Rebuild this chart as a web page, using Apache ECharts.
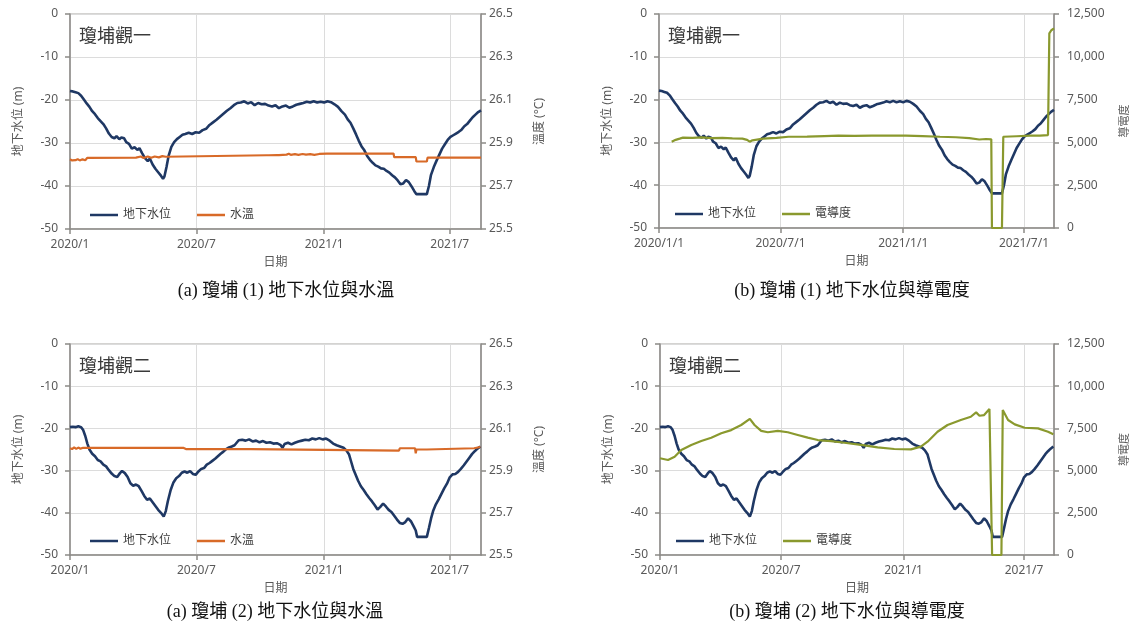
<!DOCTYPE html>
<html>
<head>
<meta charset="utf-8">
<title>瓊埔 地下水位、水溫與導電度</title>
<script src="https://cdn.jsdelivr.net/npm/echarts@6/dist/echarts.min.js"></script>
<style>
  html, body { margin: 0; padding: 0; background: #ffffff; }
  #c { width: 1136px; height: 632px; }
</style>
</head>
<body>
<div id="c"></div>
<script>
// ---- axis ticks ----
const TICK_DATES = ['2020-01-01', '2020-07-01', '2021-01-01', '2021-07-01'];
const TICK_LABELS_SHORT = ['2020/1', '2020/7', '2021/1', '2021/7'];
const TICK_LABELS_FULL = ['2020/1/1', '2020/7/1', '2021/1/1', '2021/7/1'];
const X_START = '2020-01-01';
const X_END = '2021-08-15';

// ---- 瓊埔觀一 groundwater level (m) ----
const gw1 = [
  ['2020-01-01',-17.9],['2020-01-05',-18.0],['2020-01-09',-18.2],['2020-01-13',-18.4],['2020-01-17',-19.0],
  ['2020-01-21',-19.9],['2020-01-25',-20.8],['2020-01-29',-21.6],['2020-02-02',-22.6],['2020-02-06',-23.3],
  ['2020-02-10',-24.2],['2020-02-14',-24.9],['2020-02-18',-25.6],['2020-02-22',-26.6],['2020-02-26',-27.8],
  ['2020-03-01',-28.6],['2020-03-05',-28.9],['2020-03-08',-28.4],['2020-03-12',-29.1],['2020-03-15',-28.7],
  ['2020-03-19',-28.9],['2020-03-22',-29.8],['2020-03-26',-30.2],['2020-03-30',-31.3],['2020-04-03',-31.0],
  ['2020-04-07',-31.6],['2020-04-10',-31.2],['2020-04-14',-32.4],['2020-04-18',-33.5],['2020-04-22',-34.2],
  ['2020-04-25',-33.6],['2020-04-29',-35.0],['2020-05-03',-36.0],['2020-05-07',-36.8],['2020-05-11',-37.6],
  ['2020-05-14',-38.3],['2020-05-16',-37.8],['2020-05-19',-35.6],['2020-05-22',-33.0],['2020-05-26',-30.9],
  ['2020-05-30',-29.8],['2020-06-03',-29.1],['2020-06-07',-28.6],['2020-06-11',-28.1],['2020-06-15',-27.9],
  ['2020-06-20',-27.6],['2020-06-25',-27.9],['2020-06-30',-27.5],['2020-07-05',-27.6],['2020-07-10',-27.0],
  ['2020-07-15',-26.7],['2020-07-20',-25.8],['2020-07-25',-25.2],['2020-07-30',-24.6],['2020-08-04',-23.9],
  ['2020-08-09',-23.2],['2020-08-14',-22.5],['2020-08-19',-21.9],['2020-08-24',-21.2],['2020-08-29',-20.7],
  ['2020-09-03',-20.6],['2020-09-08',-20.3],['2020-09-13',-20.8],['2020-09-18',-20.5],['2020-09-23',-21.2],
  ['2020-09-28',-20.7],['2020-10-03',-21.0],['2020-10-08',-20.9],['2020-10-13',-21.3],['2020-10-18',-21.5],
  ['2020-10-23',-21.2],['2020-10-28',-21.9],['2020-11-02',-21.5],['2020-11-07',-21.3],['2020-11-12',-21.8],
  ['2020-11-17',-21.5],['2020-11-22',-21.1],['2020-11-27',-20.9],['2020-12-02',-20.7],['2020-12-07',-20.4],
  ['2020-12-12',-20.6],['2020-12-17',-20.3],['2020-12-22',-20.6],['2020-12-27',-20.4],['2021-01-01',-20.6],
  ['2021-01-06',-20.3],['2021-01-11',-20.5],['2021-01-16',-21.0],['2021-01-21',-21.6],['2021-01-26',-22.6],
  ['2021-01-31',-23.4],['2021-02-04',-24.5],['2021-02-08',-25.3],['2021-02-12',-26.6],['2021-02-16',-28.0],
  ['2021-02-20',-29.5],['2021-02-24',-30.8],['2021-02-28',-31.7],['2021-03-04',-33.0],['2021-03-08',-33.9],
  ['2021-03-12',-34.6],['2021-03-16',-35.2],['2021-03-20',-35.5],['2021-03-24',-35.9],['2021-03-28',-36.0],
  ['2021-04-01',-36.5],['2021-04-05',-36.9],['2021-04-09',-37.5],['2021-04-13',-38.0],['2021-04-17',-38.7],
  ['2021-04-21',-39.6],['2021-04-25',-39.4],['2021-04-29',-38.6],['2021-05-03',-39.1],['2021-05-07',-40.1],
  ['2021-05-11',-41.2],['2021-05-14',-41.9],['2021-05-29',-41.9],['2021-06-01',-40.0],['2021-06-04',-37.4],
  ['2021-06-08',-35.6],['2021-06-12',-34.1],['2021-06-16',-32.7],['2021-06-20',-31.3],['2021-06-24',-30.3],
  ['2021-06-28',-29.3],['2021-07-02',-28.6],['2021-07-06',-28.2],['2021-07-10',-27.8],['2021-07-14',-27.4],
  ['2021-07-18',-26.9],['2021-07-22',-26.1],['2021-07-26',-25.6],['2021-07-30',-24.8],['2021-08-03',-24.0],
  ['2021-08-07',-23.4],['2021-08-11',-22.8],['2021-08-15',-22.4]
];

// ---- 瓊埔觀二 groundwater level (m) ----
const gw2 = [
  ['2020-01-01',-19.7],['2020-01-05',-19.6],['2020-01-09',-19.7],['2020-01-13',-19.5],['2020-01-17',-19.7],
  ['2020-01-20',-20.4],['2020-01-23',-21.8],['2020-01-26',-23.6],['2020-01-29',-25.0],['2020-02-02',-26.0],
  ['2020-02-06',-26.6],['2020-02-10',-27.5],['2020-02-14',-27.8],['2020-02-18',-28.6],['2020-02-22',-29.0],
  ['2020-02-26',-29.9],['2020-03-01',-30.7],['2020-03-05',-31.3],['2020-03-09',-31.5],['2020-03-13',-30.6],
  ['2020-03-16',-30.1],['2020-03-20',-30.6],['2020-03-24',-31.5],['2020-03-28',-33.0],['2020-04-01',-33.6],
  ['2020-04-05',-33.3],['2020-04-09',-33.7],['2020-04-13',-34.8],['2020-04-17',-36.0],['2020-04-21',-36.9],
  ['2020-04-25',-36.6],['2020-04-29',-37.5],['2020-05-03',-38.4],['2020-05-07',-39.3],['2020-05-11',-40.0],
  ['2020-05-15',-40.9],['2020-05-18',-39.6],['2020-05-21',-37.2],['2020-05-25',-34.6],['2020-05-29',-32.8],
  ['2020-06-02',-31.8],['2020-06-06',-31.3],['2020-06-10',-30.5],['2020-06-14',-30.2],['2020-06-18',-30.5],
  ['2020-06-22',-30.1],['2020-06-26',-30.8],['2020-06-30',-31.0],['2020-07-04',-30.2],['2020-07-08',-29.6],
  ['2020-07-12',-29.4],['2020-07-16',-28.6],['2020-07-20',-28.2],['2020-07-24',-27.7],['2020-07-28',-27.2],
  ['2020-08-01',-26.6],['2020-08-05',-26.0],['2020-08-09',-25.5],['2020-08-13',-24.9],['2020-08-17',-24.5],
  ['2020-08-21',-24.3],['2020-08-25',-24.0],['2020-08-28',-23.4],['2020-08-31',-22.8],['2020-09-05',-22.7],
  ['2020-09-10',-22.9],['2020-09-15',-22.6],['2020-09-20',-23.1],['2020-09-25',-22.9],['2020-09-30',-23.3],
  ['2020-10-05',-23.0],['2020-10-10',-23.4],['2020-10-15',-23.3],['2020-10-20',-23.6],['2020-10-25',-23.5],
  ['2020-10-30',-23.9],['2020-11-02',-24.6],['2020-11-05',-23.7],['2020-11-10',-23.4],['2020-11-15',-23.8],
  ['2020-11-20',-23.4],['2020-11-25',-23.1],['2020-11-30',-22.9],['2020-12-05',-22.7],['2020-12-10',-22.8],
  ['2020-12-15',-22.4],['2020-12-20',-22.6],['2020-12-25',-22.3],['2020-12-30',-22.6],['2021-01-04',-22.4],
  ['2021-01-09',-22.9],['2021-01-14',-23.6],['2021-01-19',-24.0],['2021-01-24',-24.3],['2021-01-29',-24.6],
  ['2021-02-02',-25.2],['2021-02-06',-26.2],['2021-02-09',-27.9],['2021-02-12',-29.6],['2021-02-15',-30.8],
  ['2021-02-19',-32.4],['2021-02-23',-33.7],['2021-02-27',-34.6],['2021-03-03',-35.6],['2021-03-07',-36.5],
  ['2021-03-11',-37.3],['2021-03-15',-38.2],['2021-03-19',-39.2],['2021-03-23',-38.6],['2021-03-27',-37.8],
  ['2021-03-31',-38.5],['2021-04-04',-39.3],['2021-04-08',-39.8],['2021-04-12',-40.7],['2021-04-16',-41.6],
  ['2021-04-20',-42.4],['2021-04-24',-42.6],['2021-04-28',-42.2],['2021-05-02',-41.3],['2021-05-06',-42.0],
  ['2021-05-10',-43.2],['2021-05-13',-44.2],['2021-05-15',-45.7],['2021-05-29',-45.7],['2021-06-01',-43.6],
  ['2021-06-04',-41.4],['2021-06-07',-39.6],['2021-06-11',-38.0],['2021-06-15',-36.8],['2021-06-19',-35.5],
  ['2021-06-23',-34.2],['2021-06-27',-33.1],['2021-07-01',-31.6],['2021-07-05',-30.9],['2021-07-09',-30.8],
  ['2021-07-13',-30.3],['2021-07-17',-29.6],['2021-07-21',-28.8],['2021-07-25',-27.9],['2021-07-29',-27.0],
  ['2021-08-02',-26.1],['2021-08-06',-25.4],['2021-08-10',-24.8],['2021-08-14',-24.3]
];

// ---- water temperature (°C) ----
const temp1 = [
  ['2020-01-01',25.824],['2020-01-04',25.819],['2020-01-06',25.826],['2020-01-09',25.820],['2020-01-12',25.825],
  ['2020-01-15',25.819],['2020-01-19',25.824],['2020-01-23',25.820],['2020-01-26',25.831],['2020-04-05',25.832],
  ['2020-04-12',25.837],['2020-04-16',25.830],['2020-04-22',25.837],['2020-04-27',25.831],['2020-05-02',25.837],
  ['2020-05-08',25.833],['2020-05-13',25.839],['2020-05-18',25.836],['2020-05-20',25.843],['2020-10-10',25.843],
  ['2020-10-12',25.849],['2020-10-13',25.843],['2020-10-25',25.844],['2020-10-27',25.850],['2020-10-28',25.844],
  ['2020-11-08',25.846],['2020-11-11',25.850],['2020-11-14',25.845],['2020-11-20',25.848],['2020-11-25',25.845],
  ['2020-12-01',25.849],['2020-12-06',25.846],['2020-12-12',25.848],['2020-12-18',25.845],['2020-12-25',25.849],
  ['2021-01-05',25.851],['2021-04-11',25.851],['2021-04-12',25.834],['2021-05-13',25.834],['2021-05-14',25.814],
  ['2021-05-29',25.814],['2021-05-30',25.832],['2021-08-15',25.832]
];
const temp2 = [
  ['2020-01-01',26.006],['2020-01-04',26.002],['2020-01-07',26.010],['2020-01-10',26.003],['2020-01-13',26.009],
  ['2020-01-16',26.004],['2020-01-20',26.008],['2020-06-12',26.008],['2020-06-14',26.012],['2020-06-16',26.002],
  ['2020-09-17',26.002],['2020-09-18',25.995],['2021-04-19',25.995],['2021-04-20',26.006],['2021-05-12',26.006],
  ['2021-05-13',25.982],['2021-05-14',26.000],['2021-05-29',26.000],['2021-05-30',26.006],['2021-08-05',26.006],
  ['2021-08-14',26.012]
];

// ---- electrical conductivity ----
const ec1 = [
  ['2020-01-20',5040],['2020-01-26',5150],['2020-02-01',5220],['2020-02-06',5280],['2020-02-20',5260],
  ['2020-03-05',5290],['2020-03-20',5250],['2020-04-05',5270],['2020-04-20',5240],['2020-05-05',5220],
  ['2020-05-12',5150],['2020-05-16',5040],['2020-05-20',5120],['2020-06-05',5220],['2020-06-25',5260],
  ['2020-07-13',5330],['2020-08-10',5340],['2020-09-05',5370],['2020-09-26',5390],['2020-10-20',5380],
  ['2020-11-15',5390],['2020-12-10',5400],['2021-01-05',5390],['2021-01-30',5370],['2021-02-25',5330],
  ['2021-03-21',5300],['2021-04-10',5250],['2021-04-25',5170],['2021-05-05',5200],['2021-05-13',5180],
  ['2021-05-14',0],['2021-05-29',0],['2021-05-31',5330],['2021-06-20',5360],['2021-07-10',5390],
  ['2021-07-25',5400],['2021-08-06',5430],['2021-08-08',11370],['2021-08-11',11550],['2021-08-15',11660]
];
const ec2 = [
  ['2020-01-01',5730],['2020-01-13',5630],['2020-01-23',5825],['2020-02-02',6220],['2020-02-17',6520],
  ['2020-03-03',6750],['2020-03-18',6950],['2020-04-02',7210],['2020-04-17',7400],['2020-05-02',7700],
  ['2020-05-15',8060],['2020-05-22',7700],['2020-06-01',7350],['2020-06-11',7270],['2020-06-26',7350],
  ['2020-07-11',7270],['2020-07-26',7110],['2020-08-10',6950],['2020-08-25',6810],['2020-09-14',6750],
  ['2020-10-04',6650],['2020-10-29',6520],['2020-11-23',6380],['2020-12-18',6280],['2021-01-12',6260],
  ['2021-01-27',6420],['2021-02-06',6710],['2021-02-21',7300],['2021-03-08',7700],['2021-03-28',8000],
  ['2021-04-12',8190],['2021-04-20',8450],['2021-04-25',8250],['2021-05-02',8290],['2021-05-10',8650],
  ['2021-05-13',8690],['2021-05-14',0],['2021-05-28',0],['2021-05-30',8590],['2021-06-07',8000],
  ['2021-06-17',7740],['2021-07-02',7540],['2021-07-22',7500],['2021-08-06',7300],['2021-08-14',7150]
];

// ---- helpers ----
function ts(s) {
  const p = s.split('-').map(Number);
  return new Date(p[0], p[1] - 1, p[2]).getTime();
}
const toPoints = arr => arr.map(d => [ts(d[0]), d[1]]);
const tickTs = TICK_DATES.map(ts);

const FONT = '"Noto Sans", "Noto Sans CJK TC", sans-serif';
const SERIF = '"Liberation Serif", "Noto Sans CJK TC", serif';
const C_GW = '#1f3864';
const C_TEMP = '#d86a28';
const C_EC = '#8a992e';
const C_AXIS = '#8c8a87';
const C_GRIDLINE = '#dcdcdc';
const C_TEXT = '#595959';

// panel geometry
const panels = [
  { left: 70,  top: 14,  width: 411, height: 215, labels: TICK_LABELS_SHORT, station: '瓊埔觀一', gw: gw1, kind: 'temp', sec: temp1 },
  { left: 659, top: 14,  width: 395, height: 214, labels: TICK_LABELS_FULL,  station: '瓊埔觀一', gw: gw1, kind: 'ec',   sec: ec1 },
  { left: 70,  top: 344, width: 411, height: 211, labels: TICK_LABELS_SHORT, station: '瓊埔觀二', gw: gw2, kind: 'temp', sec: temp2 },
  { left: 660, top: 344, width: 394, height: 211, labels: TICK_LABELS_SHORT, station: '瓊埔觀二', gw: gw2, kind: 'ec',   sec: ec2 }
];
const captions = [
  { text: '(a) 瓊埔 (1) 地下水位與水溫',   x: 286, y: 291 },
  { text: '(b) 瓊埔 (1) 地下水位與導電度', x: 852, y: 291 },
  { text: '(a) 瓊埔 (2) 地下水位與水溫',   x: 275, y: 612 },
  { text: '(b) 瓊埔 (2) 地下水位與導電度', x: 847, y: 612 }
];

const grid = [], xAxis = [], yAxis = [], series = [], legend = [], graphic = [];

panels.forEach((p, i) => {
  const isTemp = p.kind === 'temp';
  grid.push({
    left: p.left, top: p.top, width: p.width, height: p.height,
    show: true, borderColor: '#a8a6a3', borderWidth: 1, backgroundColor: 'transparent'
  });

  // dates are kept as millisecond values on a plain value axis so ticks sit exactly on month starts
  xAxis.push({
    type: 'value', gridIndex: i,
    min: ts(X_START), max: ts(X_END),
    name: '日期', nameLocation: 'middle', nameGap: 28,
    nameTextStyle: { fontFamily: FONT, fontSize: 12, color: C_TEXT },
    axisLine: { show: true, onZero: false, lineStyle: { color: C_AXIS, width: 1.5 } },
    axisTick: { show: true, customValues: tickTs, length: 5, lineStyle: { color: C_AXIS, width: 1.5 } },
    axisLabel: {
      customValues: tickTs, margin: 10, fontFamily: FONT, fontSize: 12, color: C_TEXT,
      formatter: v => { const k = tickTs.indexOf(v); return k >= 0 ? p.labels[k] : ''; }
    },
    splitLine: { show: true, lineStyle: { color: C_GRIDLINE, width: 1 } }
  });

  yAxis.push({
    type: 'value', gridIndex: i, position: 'left',
    min: -50, max: 0, interval: 10,
    name: '地下水位 (m)', nameLocation: 'middle', nameGap: 45, nameRotate: 90,
    nameTextStyle: { fontFamily: FONT, fontSize: 12, color: C_TEXT },
    axisLine: { show: true, lineStyle: { color: C_AXIS, width: 1.5 } },
    axisTick: { show: true, length: 5, lineStyle: { color: C_AXIS, width: 1.5 } },
    axisLabel: { margin: 12, fontFamily: FONT, fontSize: 12, color: C_TEXT },
    splitLine: { show: true, lineStyle: { color: C_GRIDLINE, width: 1 } }
  });

  if (isTemp) {
    yAxis.push({
      type: 'value', gridIndex: i, position: 'right',
      min: 25.5, max: 26.5, interval: 0.2,
      axisLine: { show: true, lineStyle: { color: C_AXIS, width: 1.5 } },
      axisTick: { show: true, length: 5, lineStyle: { color: C_AXIS, width: 1.5 } },
      axisLabel: { margin: 8, fontFamily: FONT, fontSize: 12, color: C_TEXT, formatter: v => v.toFixed(1) },
      splitLine: { show: false }
    });
  } else {
    yAxis.push({
      type: 'value', gridIndex: i, position: 'right',
      min: 0, max: 12500, interval: 2500,
      axisLine: { show: true, lineStyle: { color: C_AXIS, width: 1.5 } },
      axisTick: { show: true, length: 5, lineStyle: { color: C_AXIS, width: 1.5 } },
      axisLabel: { margin: 13, fontFamily: FONT, fontSize: 12, color: C_TEXT,
        formatter: v => Math.round(v).toLocaleString('en-US') },
      splitLine: { show: false }
    });
  }

  // right-hand axis title, read from bottom to top like the left one
  graphic.push({
    type: 'text',
    x: isTemp ? p.left + p.width + 59 : p.left + p.width + 71,
    y: p.top + p.height / 2,
    rotation: Math.PI / 2,
    style: {
      text: isTemp ? '溫度 (°C)' : '導電度',
      font: (isTemp ? '12px ' : '11px ') + FONT, fill: C_TEXT,
      align: 'center', verticalAlign: 'middle'
    }
  });

  const secName = isTemp ? '水溫' : '電導度';
  series.push({
    name: '地下水位', type: 'line', xAxisIndex: i, yAxisIndex: 2 * i,
    data: toPoints(p.gw), symbol: 'none', smooth: false,
    lineStyle: { color: C_GW, width: 2.6 }, itemStyle: { color: C_GW }, z: 3
  });
  series.push({
    name: secName, type: 'line', xAxisIndex: i, yAxisIndex: 2 * i + 1,
    data: toPoints(p.sec), symbol: 'none', smooth: false,
    lineStyle: { color: isTemp ? C_TEMP : C_EC, width: 2.2 },
    itemStyle: { color: isTemp ? C_TEMP : C_EC }, z: 4
  });

  legend.push({
    data: ['地下水位', secName],
    left: p.left + (isTemp ? 15 : 11), top: p.top + p.height - 25,
    orient: 'horizontal', icon: 'rect', itemWidth: 28, itemHeight: 2.5, itemGap: 26,
    textStyle: { fontFamily: FONT, fontSize: 12, color: '#404040' },
    selectedMode: false
  });

  graphic.push({
    type: 'text', left: p.left + 9, top: p.top + 12,
    style: { text: p.station, font: '18px "Noto Sans CJK TC", sans-serif', fill: '#3a3a3a' }
  });
});

captions.forEach(c => {
  graphic.push({
    type: 'text', x: c.x, y: c.y,
    style: { text: c.text, font: '18px ' + SERIF, fill: '#111111', align: 'center', verticalAlign: 'middle' }
  });
});

const chart = echarts.init(document.getElementById('c'), null, { renderer: 'canvas' });
chart.setOption({
  backgroundColor: '#ffffff',
  animation: false,
  grid, xAxis, yAxis, series, legend, graphic
});
</script>
</body>
</html>
